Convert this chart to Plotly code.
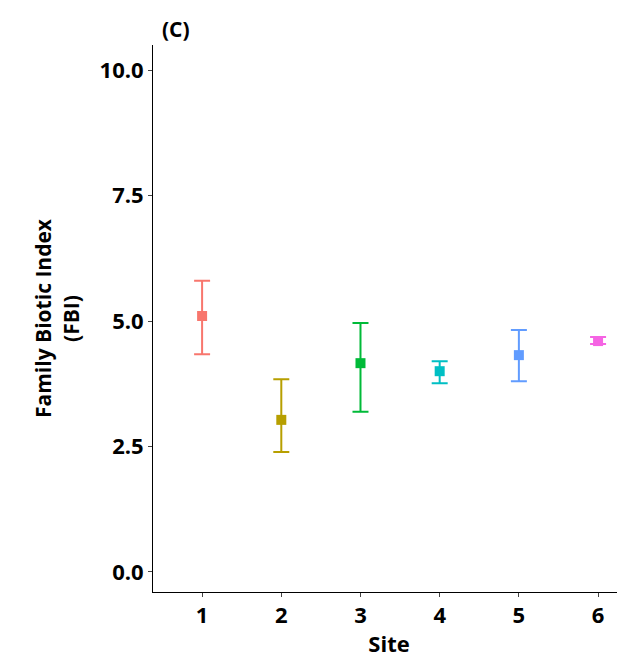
import plotly.graph_objects as go

sites = [1, 2, 3, 4, 5, 6]
fbi_mean = [5.10, 3.03, 4.16, 4.00, 4.32, 4.60]
fbi_upper = [5.80, 3.84, 4.96, 4.20, 4.82, 4.68]
fbi_lower = [4.34, 2.39, 3.19, 3.76, 3.80, 4.54]
colors = ['#F8766D', '#B79F00', '#00BA38', '#00BFC4', '#619CFF', '#F564E3']

fig = go.Figure()
for s, m, u, l, c in zip(sites, fbi_mean, fbi_upper, fbi_lower, colors):
    fig.add_trace(go.Scatter(
        x=[s], y=[m], mode='markers',
        marker=dict(symbol='square', size=10, color=c),
        error_y=dict(type='data', symmetric=False, array=[u - m], arrayminus=[m - l],
                     color=c, thickness=2, width=8),
        showlegend=False
    ))

font = dict(family='Open Sans, Liberation Sans, sans-serif', size=22, color='black')
fig.update_layout(
    width=625, height=666,
    plot_bgcolor='white', paper_bgcolor='white',
    margin=dict(l=145, r=8, t=37, b=82),
    font=font,
    annotations=[dict(text='<b>(C)</b>', xref='paper', yref='paper', x=0.015, y=1.0,
                      xanchor='left', yanchor='bottom', showarrow=False,
                      font=dict(size=21))],
    xaxis=dict(range=[0.38, 6.34], tickvals=sites, ticktext=['<b>%d</b>' % s for s in sites],
               showline=True, linecolor='black', linewidth=1, showgrid=False, zeroline=False,
               ticks='outside', ticklen=4, automargin=False,
               title=dict(text='<b>Site</b>', standoff=8, font=dict(size=22))),
    yaxis=dict(range=[-0.4, 10.5], tickvals=[0, 2.5, 5, 7.5, 10],
               ticktext=['<b>0.0</b>', '<b>2.5</b>', '<b>5.0</b>', '<b>7.5</b>', '<b>10.0</b>'],
               showline=True, linecolor='black', linewidth=1, showgrid=False, zeroline=False,
               ticks='outside', ticklen=4, automargin=False,
               title=dict(text='<b>Family Biotic Index<br>(FBI)</b>', standoff=14,
                          font=dict(size=21))),
)
fig.write_html("out.html")
